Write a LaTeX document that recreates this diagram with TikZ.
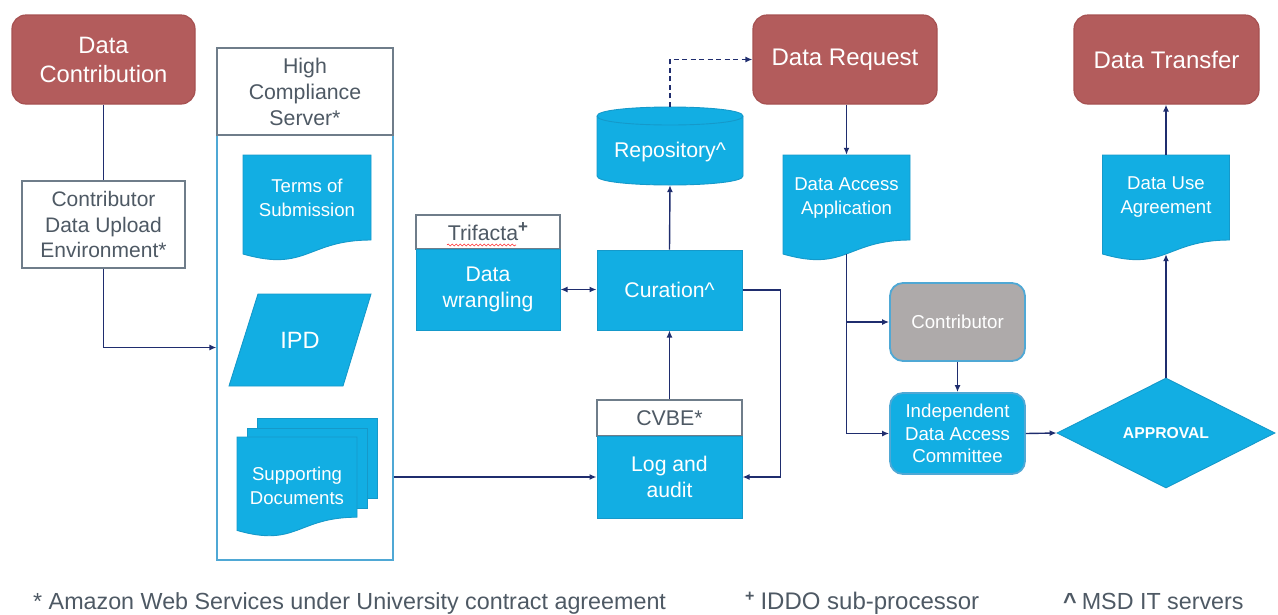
\documentclass[tikz,border=0pt]{standalone}
\usepackage{fontspec}
\setmainfont{Liberation Sans}
\usetikzlibrary{arrows.meta,shapes.geometric,decorations.pathmorphing}

\definecolor{brick}{HTML}{B35C5C}
\definecolor{brickedge}{HTML}{A65151}
\definecolor{sky}{HTML}{12AEE3}
\definecolor{skyedge}{HTML}{1599CA}
\definecolor{paleedge}{HTML}{4FA8D5}
\definecolor{stone}{HTML}{AEAAAA}
\definecolor{navy}{HTML}{1F2D6E}
\definecolor{slate}{HTML}{6F7D8A}
\definecolor{slatetext}{HTML}{4E5964}

% flowchart "document" outline: x0, y0 (top left), width, height
\newcommand\docpath[4]{(#1,#2) -- ({#1+#3},#2) -- ({#1+#3},{#2+0.802*#4})
  .. controls ({#1+0.5*#3},{#2+0.802*#4}) and ({#1+0.5*#3},{#2+1.1075*#4})
  .. (#1,{#2+0.934*#4}) -- cycle}

\tikzset{
  redbox/.style={draw=brickedge, fill=brick, line width=1.2, rounded corners=14,
    text=white, align=center, inner sep=0},
  headbox/.style={draw=slate, fill=white, line width=1.3, text=slatetext,
    align=center, inner sep=0, font=\fontsize{21.3}{26}\selectfont},
  bluebox/.style={draw=skyedge, fill=sky, line width=1, text=white,
    align=center, inner sep=0, font=\fontsize{21.2}{25.5}\selectfont},
  roundbox/.style={draw=paleedge, line width=1.8, rounded corners=13, text=white,
    align=center, inner sep=0, font=\fontsize{18.7}{22.5}\selectfont},
  docfill/.style={fill=sky, draw=skyedge, line width=0.9},
  docarea/.style={inner sep=0, draw=none},
  doctext/.style={text=white, align=center, inner sep=0,
    font=\fontsize{18.6}{24}\selectfont},
  conn/.style={draw=navy, line width=1.4, -{Latex[length=7pt,width=6pt]}},
  link/.style={draw=navy, line width=1.4},
  foot/.style={text=slatetext, inner sep=0, font=\fontsize{23.3}{26}\selectfont},
}

\begin{document}
\begin{tikzpicture}[x=1pt,y=-1pt]
\useasboundingbox (0,0) rectangle (1278,614);

% ---------- contribution side ----------
\node[redbox, minimum width=183, minimum height=89,
  font=\fontsize{23.7}{29}\selectfont] (dc) at (103.5,59.5) {Data\\Contribution};
\node[headbox, minimum width=163, minimum height=87,
  font=\fontsize{21}{25.5}\selectfont] (dup) at (103.5,224.5)
  {Contributor\\Data Upload\\Environment*};

% ---------- high compliance server ----------
\node[draw=paleedge, line width=1.2, minimum width=176, minimum height=425,
  inner sep=0] (hcsbody) at (305,347.5) {};
\node[headbox, minimum width=176, minimum height=87] (hcs) at (305,91.5)
  {High\\Compliance\\Server*};

\filldraw[docfill] \docpath{243}{155}{128}{106};
\node[docarea, minimum width=128, minimum height=99,
  label={[doctext, yshift=6.5]center:{Terms of\\Submission}}] (tos) at (307,204.5) {};

\filldraw[docfill] (258,294) -- (371,294) -- (343,386) -- (229,386) -- cycle;
\node[doctext, font=\fontsize{23.6}{26}\selectfont] (ipd) at (300,340) {IPD};

\filldraw[docfill] (257,418) rectangle (377,498);
\filldraw[docfill] (247,428) rectangle (367,508);
\filldraw[docfill] \docpath{237}{437}{120}{100};
\node[doctext] (sdoc) at (297,485.5) {Supporting\\Documents};

% ---------- processing ----------
\node[headbox, minimum width=144, minimum height=34] (tri) at (488,232)
  {Trifacta\raisebox{8pt}{\bfseries\fontsize{17}{17}\selectfont+}};
\draw[red!80!white, line width=0.6, decorate,
  decoration={snake, amplitude=1, segment length=4}] (447,245) -- (516,245);
\node[bluebox, minimum width=144, minimum height=81] (wr) at (488,289.5)
  {Data\\wrangling};

\node[bluebox, minimum width=145, minimum height=80] (cur) at (669.5,290)
  {Curation\textasciicircum};

% repository cylinder
\filldraw[docfill] (597,116) -- (597,176) .. controls (597,188) and (743,188) .. (743,176)
  -- (743,116) .. controls (743,104) and (597,104) .. (597,116) -- cycle;
\draw[skyedge, line width=0.9] (597,116) .. controls (597,128) and (743,128) .. (743,116);
\node[docarea, minimum width=146, minimum height=78,
  label={[doctext, font=\fontsize{21.3}{24}\selectfont, yshift=-6]center:{Repository\textasciicircum}}]
  (repo) at (670,146) {};

\node[headbox, minimum width=145, minimum height=36] (cvbe) at (669.5,418) {CVBE*};
\node[bluebox, minimum width=145, minimum height=82] (log) at (669.5,477)
  {Log and\\audit};

% ---------- request side ----------
\node[redbox, minimum width=184, minimum height=89,
  font=\fontsize{24}{28}\selectfont] (dr) at (845,59.5) {Data Request};

\filldraw[docfill] \docpath{783}{155}{127}{106};
\node[docarea, minimum width=127, minimum height=99,
  label={[doctext, yshift=6.5]center:{Data Access\\Application}}] (daa) at (846.5,204.5) {};

\node[roundbox, fill=stone, minimum width=135, minimum height=78] (ctb)
  at (957.5,322) {Contributor};
\node[roundbox, fill=sky, minimum width=135, minimum height=81] (idac)
  at (957.5,433.5) {Independent\\Data Access\\Committee};

\node[diamond, fill=sky, draw=skyedge, line width=0.9, aspect=2, inner sep=0,
  minimum width=218, minimum height=110, text=white,
  font=\bfseries\fontsize{15.7}{18}\selectfont] (appr) at (1166,433) {APPROVAL};

\filldraw[docfill] \docpath{1102.5}{155}{127}{106};
\node[docarea, minimum width=127, minimum height=99,
  label={[doctext, yshift=7.5]center:{Data Use\\Agreement}}] (dua) at (1166,204.5) {};

\node[redbox, minimum width=185, minimum height=89,
  font=\fontsize{24}{28}\selectfont] (dt) at (1166.5,59.5) {Data Transfer};

% ---------- connectors ----------
\draw[link] (dc.south) -- (dup.north);
\draw[conn] (dup.south) |- (hcsbody.west);
\draw[conn] (hcsbody.east |- log.west) -- (log.west);
\draw[conn, {Latex[length=7pt,width=6pt]}-{Latex[length=7pt,width=6pt]}]
  (wr.east) -- (wr.east -| cur.west);
\draw[conn] (cur.north) -- (repo.south);
\draw[conn, dash pattern=on 5pt off 3.5pt] (repo.north) |- (dr.west);
\draw[conn] (cvbe.north) -- (cur.south);
\draw[conn] (cur.east) -- ++(38,0) |- (log.east);
\draw[conn] (dr.south -| daa.north) -- (daa.north);
\draw[conn] (daa.south) |- (ctb.west);
\draw[conn] (daa.south) |- (idac.west);
\draw[conn] (ctb.south) -- (idac.north);
\draw[conn] (idac.east) -- (appr.west);
\draw[conn] (appr.north) -- (dua.south);
\draw[conn] (dua.north) -- (dua.north |- dt.south);

% ---------- footnotes ----------
\node[foot, anchor=base west] (fn1) at (33,609)
  {* Amazon Web Services under University contract agreement};
\node[foot, anchor=base west, font=\fontsize{24}{26}\selectfont] (fn2) at (745,609)
  {\raisebox{8pt}{\bfseries\fontsize{16}{16}\selectfont+}\hspace{6pt}IDDO sub-processor};
\node[foot, anchor=base west] (fn3) at (1063,609)
  {\textbf{\textasciicircum}\hspace{5pt}MSD IT servers};
\end{tikzpicture}
\end{document}
